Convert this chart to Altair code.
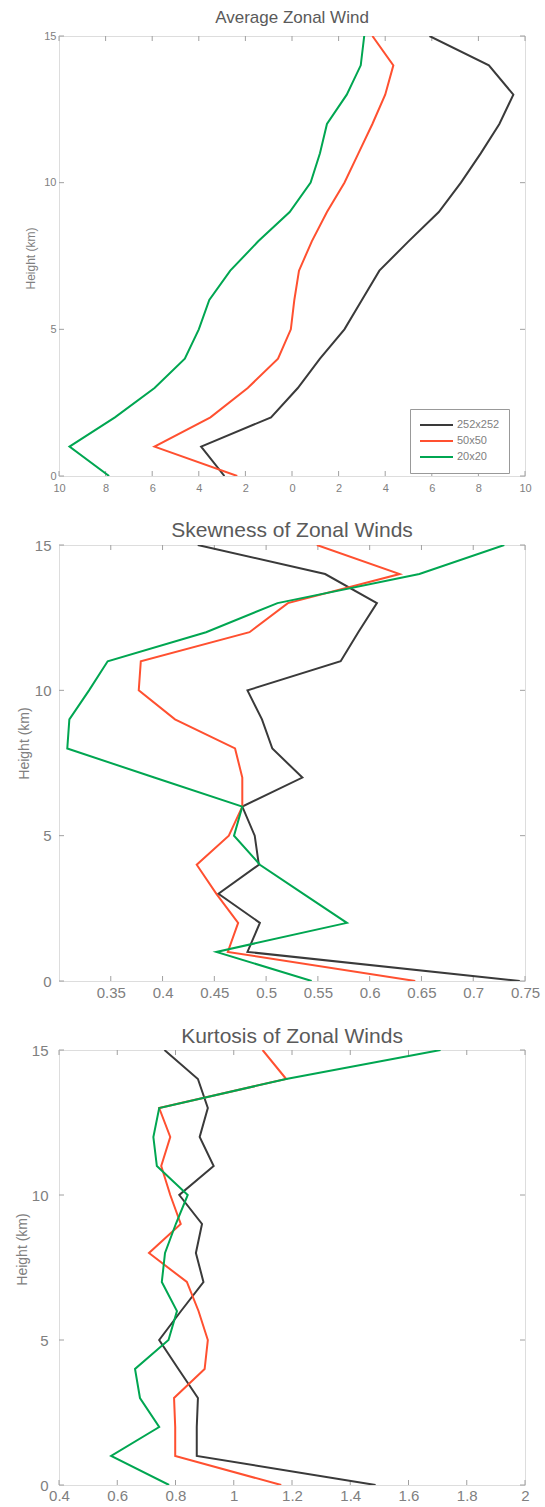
import altair as alt
import pandas as pd

# ---------------- data ----------------
heights = list(range(16))  # km, 0..15
series_names = ["252x252", "50x50", "20x20"]
series_colors = ["#3a3a3a", "#ff5030", "#00a651"]

# Average zonal wind
avg_252 = [-2.9, -3.9, -0.9, 0.25, 1.2, 2.25, 3.0, 3.75, 5.0, 6.3, 7.25, 8.1, 8.9, 9.5, 8.45, 5.9]
avg_50 = [-2.35, -5.9, -3.5, -1.9, -0.6, -0.05, 0.1, 0.3, 0.85, 1.5, 2.25, 2.85, 3.45, 4.0, 4.35, 3.45]
avg_20 = [-7.85, -9.55, -7.6, -5.9, -4.6, -4.0, -3.55, -2.65, -1.45, -0.1, 0.8, 1.2, 1.5, 2.35, 2.95, 3.1]

# Skewness
skew_252 = [0.745, 0.482, 0.494, 0.454, 0.493, 0.489, 0.477, 0.535, 0.506, 0.496, 0.482, 0.572, 0.589, 0.607, 0.557, 0.434]
skew_50 = [0.644, 0.463, 0.473, 0.452, 0.433, 0.464, 0.477, 0.477, 0.470, 0.412, 0.377, 0.379, 0.484, 0.521, 0.629, 0.549]
skew_20 = [0.544, 0.452, 0.578, 0.536, 0.494, 0.469, 0.477, 0.392, 0.308, 0.310, 0.329, 0.347, 0.442, 0.511, 0.648, 0.730]

# Kurtosis
kurt_252 = [1.487, 0.873, 0.873, 0.877, 0.810, 0.744, 0.819, 0.896, 0.870, 0.891, 0.813, 0.931, 0.883, 0.911, 0.877, 0.762]
kurt_50 = [1.163, 0.799, 0.799, 0.795, 0.900, 0.911, 0.879, 0.839, 0.709, 0.818, 0.782, 0.751, 0.782, 0.744, 1.180, 1.099]
kurt_20 = [0.778, 0.579, 0.744, 0.678, 0.661, 0.776, 0.805, 0.753, 0.764, 0.801, 0.842, 0.736, 0.724, 0.744, 1.180, 1.710]

y_ticks = [0, 5, 10, 15]
avg_ticks = [-10, -8, -6, -4, -2, 0, 2, 4, 6, 8, 10]
skew_ticks = [0.35, 0.4, 0.45, 0.5, 0.55, 0.6, 0.65, 0.7, 0.75]
kurt_ticks = [0.4, 0.6, 0.8, 1.0, 1.2, 1.4, 1.6, 1.8, 2.0]

titles = ["Average Zonal Wind", "Skewness of Zonal Winds", "Kurtosis of Zonal Winds"]
y_title = "Height (km)"

# ---------------- style ----------------
FONT = "Liberation Sans"
FRAME = "#b8b8b8"
TICKC = "#a0a0a0"
LABELC = "#808080"
TITLEC = "#5a5a5a"
W = 466


def long_df(vals):
    rows = []
    for name, series in zip(series_names, vals):
        for h, v in zip(heights, series):
            rows.append({"series": name, "h": h, "v": v})
    return pd.DataFrame(rows)


def make_panel(vals, xdomain, xticks, label_expr, height, title, tsize, toff,
               lsize, xpad, ypad, ytsize, ytx, yty, legend):
    xscale = alt.Scale(domain=xdomain, nice=False, zero=False)
    yscale = alt.Scale(domain=[0, 15], nice=False, zero=False)
    xaxis = alt.Axis(values=xticks, labelExpr=label_expr, domain=False, ticks=False,
                     grid=False, labelFont=FONT, labelFontSize=lsize, labelColor=LABELC,
                     labelPadding=xpad, labelFlush=False, labelOverlap=False)
    yaxis = alt.Axis(values=y_ticks, domain=False, ticks=False, grid=False,
                     labelFont=FONT, labelFontSize=lsize, labelColor=LABELC,
                     labelPadding=ypad, labelFlush=False, labelOverlap=False,
                     title=y_title, titleFont=FONT, titleFontSize=ytsize,
                     titleFontWeight="normal", titleColor=LABELC, titleX=ytx, titleY=yty)

    lines = alt.Chart(long_df(vals)).mark_line(strokeWidth=2, clip=True).encode(
        x=alt.X("v:Q", scale=xscale, axis=xaxis, title=None),
        y=alt.Y("h:Q", scale=yscale, axis=yaxis),
        color=alt.Color("series:N", scale=alt.Scale(domain=series_names, range=series_colors),
                        sort=series_names, legend=legend),
        order=alt.Order("h:Q"),
    )

    xt = pd.DataFrame({"t": xticks})
    yt = pd.DataFrame({"t": y_ticks})
    xb = alt.Chart(xt).mark_rule(color=TICKC, strokeWidth=1).encode(
        x=alt.X("t:Q", scale=xscale, axis=xaxis, title=None),
        y=alt.value(height), y2=alt.value(height - 5))
    xtop = alt.Chart(xt).mark_rule(color=TICKC, strokeWidth=1).encode(
        x=alt.X("t:Q", scale=xscale, axis=xaxis, title=None),
        y=alt.value(0), y2=alt.value(5))
    yl = alt.Chart(yt).mark_rule(color=TICKC, strokeWidth=1).encode(
        y=alt.Y("t:Q", scale=yscale, axis=yaxis),
        x=alt.value(0), x2=alt.value(5))
    yr = alt.Chart(yt).mark_rule(color=TICKC, strokeWidth=1).encode(
        y=alt.Y("t:Q", scale=yscale, axis=yaxis),
        x=alt.value(W), x2=alt.value(W - 5))

    return alt.layer(xb, xtop, yl, yr, lines).properties(
        width=W, height=height,
        title=alt.TitleParams(title, font=FONT, fontSize=tsize, fontWeight="normal",
                              color=TITLEC, offset=toff, anchor="middle"),
    )


legend1 = alt.Legend(orient="none", legendX=351, legendY=373, title=None,
                     symbolType="stroke", symbolSize=1089, symbolStrokeWidth=2,
                     clipHeight=14,
                     labelFont=FONT, labelFontSize=11, labelColor=LABELC,
                     strokeColor="#999999", fillColor="white", padding=9,
                     rowPadding=2, labelOffset=3)

p1 = make_panel([avg_252, avg_50, avg_20], [-10, 10], avg_ticks,
                "format(abs(datum.value), 'd')", 440, titles[0], 17, 3,
                11, 6, 3, 12, -22, 222, legend1)
p2 = make_panel([skew_252, skew_50, skew_20], [0.3, 0.75], skew_ticks,
                "format(datum.value, '.2~f')", 436, titles[1], 21, -3,
                15, 4, 8, 14, -28, 198, None)
p3 = make_panel([kurt_252, kurt_50, kurt_20], [0.4, 2.0], kurt_ticks,
                "format(datum.value, '.1~f')", 435, titles[2], 21, -4,
                15, 3, 11, 14, -30, 199, None)

chart = alt.vconcat(p1, p2, p3, spacing=69, bounds="flush").resolve_scale(
    color="independent"
).properties(
    padding={"left": 14, "top": 8, "right": 2, "bottom": 2}
).configure_view(stroke=FRAME, strokeWidth=2).configure(background="white")

chart.save("out.html", embed_options={"renderer": "svg", "actions": False})
